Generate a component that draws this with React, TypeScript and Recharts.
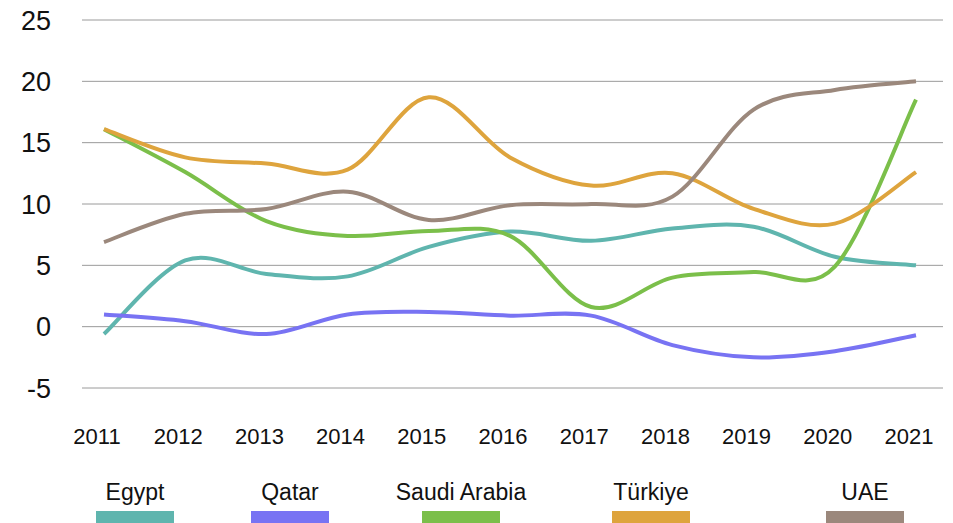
import React from 'react';
import { LineChart, Line, XAxis, YAxis, CartesianGrid } from 'recharts';

const YEARS = ['2011', '2012', '2013', '2014', '2015', '2016', '2017', '2018', '2019', '2020', '2021'];

const EGYPT = [-0.6, 5.4, 4.3, 4.1, 6.5, 7.75, 7.0, 8.0, 8.15, 5.7, 5.0];
const QATAR = [1.0, 0.45, -0.6, 1.0, 1.2, 0.9, 0.9, -1.5, -2.5, -2.0, -0.7];
const SAUDI = [16.1, 12.6, 8.6, 7.4, 7.8, 7.4, 1.6, 4.0, 4.45, 4.9, 18.5];
const TURKIYE = [16.1, 13.8, 13.3, 12.8, 18.7, 13.8, 11.5, 12.5, 9.6, 8.4, 12.6];
const UAE = [6.9, 9.2, 9.6, 11.0, 8.7, 9.9, 10.0, 10.6, 17.7, 19.3, 20.0];

const Y_TICKS = [-5, 0, 5, 10, 15, 20, 25];

const SERIES = [
  { key: 'egypt', name: 'Egypt', values: EGYPT, color: '#5fb5ae' },
  { key: 'qatar', name: 'Qatar', values: QATAR, color: '#7873f3' },
  { key: 'saudi', name: 'Saudi Arabia', values: SAUDI, color: '#7bbf4a' },
  { key: 'turkiye', name: 'Türkiye', values: TURKIYE, color: '#dea43d' },
  { key: 'uae', name: 'UAE', values: UAE, color: '#9b887c' },
];

// left edge of each legend swatch
const LEGEND_LEFT = [96, 251, 422, 612, 826];

const data = YEARS.map((year, i) => {
  const row: any = { year };
  SERIES.forEach(s => { row[s.key] = s.values[i]; });
  return row;
});

const FONT = '"Liberation Sans", Arial, sans-serif';

// spreadsheet-style smoothed line (uniform catmull-rom through every point)
const smoothCurve = (context: any) => {
  let pts: number[][] = [];
  return {
    areaStart() {},
    areaEnd() {},
    lineStart() { pts = []; },
    point(x: number, y: number) { pts.push([+x, +y]); },
    lineEnd() {
      if (!pts.length) return;
      context.moveTo(pts[0][0], pts[0][1]);
      for (let i = 0; i < pts.length - 1; i++) {
        const p0 = pts[i - 1] || pts[i];
        const p1 = pts[i];
        const p2 = pts[i + 1];
        const p3 = pts[i + 2] || p2;
        context.bezierCurveTo(
          p1[0] + (p2[0] - p0[0]) / 6, p1[1] + (p2[1] - p0[1]) / 6,
          p2[0] - (p3[0] - p1[0]) / 6, p2[1] - (p3[1] - p1[1]) / 6,
          p2[0], p2[1],
        );
      }
    },
  };
};

export default function App() {
  return (
    <div style={{ position: 'absolute', left: 0, top: 0, width: 953, height: 523, background: '#fff', fontFamily: FONT }}>
      <LineChart width={953} height={450} data={data} margin={{ top: 20, right: 10, bottom: 0, left: 0 }}>
        <CartesianGrid vertical={false} stroke="#9a9a9a" strokeWidth={1} />
        <XAxis
          dataKey="year"
          axisLine={false}
          tickLine={false}
          tickSize={0}
          tickMargin={40}
          height={62}
          padding={{ left: 22, right: 27 }}
          interval={0}
          tick={{ fill: '#111', fontSize: 22, fontFamily: FONT, dx: -7 }}
        />
        <YAxis
          domain={[-5, 25]}
          ticks={Y_TICKS}
          axisLine={false}
          tickLine={false}
          tickSize={0}
          tickMargin={31}
          width={82}
          tick={{ fill: '#111', fontSize: 27, fontFamily: FONT }}
        />
        {SERIES.map(s => (
          <Line
            key={s.key}
            dataKey={s.key}
            name={s.name}
            type={smoothCurve as any}
            stroke={s.color}
            strokeWidth={4}
            dot={false}
            activeDot={false}
            isAnimationActive={false}
          />
        ))}
      </LineChart>
      {SERIES.map((s, i) => (
        <div key={s.key} style={{ position: 'absolute', left: LEGEND_LEFT[i] - 40, top: 478, width: 158, textAlign: 'center' }}>
          <div style={{ fontSize: 23, color: '#111', lineHeight: '28px', whiteSpace: 'nowrap' }}>{s.name}</div>
          <div style={{ margin: '5px auto 0', width: 78, height: 12, background: s.color }} />
        </div>
      ))}
    </div>
  );
}
